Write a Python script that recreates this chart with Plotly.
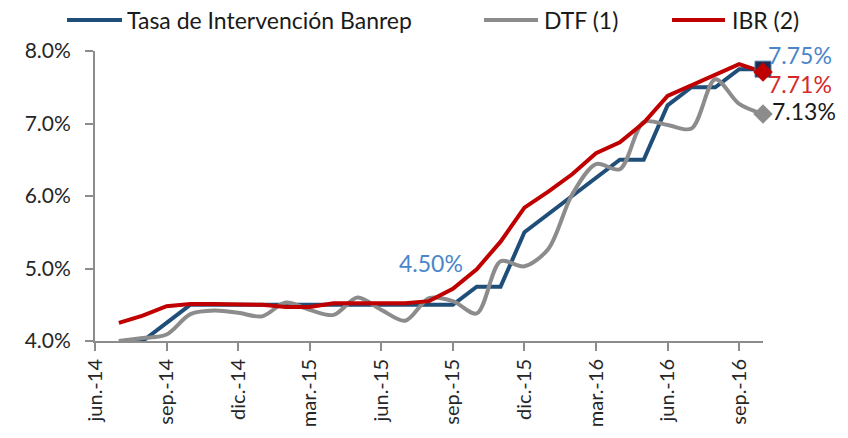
import plotly.graph_objects as go

months = ["jun.-14", "jul.-14", "ago.-14", "sep.-14", "oct.-14", "nov.-14", "dic.-14",
          "ene.-15", "feb.-15", "mar.-15", "abr.-15", "may.-15", "jun.-15", "jul.-15",
          "ago.-15", "sep.-15", "oct.-15", "nov.-15", "dic.-15", "ene.-16", "feb.-16",
          "mar.-16", "abr.-16", "may.-16", "jun.-16", "jul.-16", "ago.-16", "sep.-16",
          "oct.-16"]
data_months = months[1:]

banrep = [4.00, 4.00, 4.25, 4.50, 4.50, 4.50, 4.50, 4.50, 4.50, 4.50, 4.50, 4.50, 4.50,
          4.50, 4.50, 4.75, 4.75, 5.50, 5.75, 6.00, 6.25, 6.50, 6.50, 7.25, 7.50, 7.50,
          7.75, 7.75]
dtf = [4.00, 4.04, 4.09, 4.37, 4.42, 4.39, 4.34, 4.53, 4.43, 4.36, 4.60, 4.43, 4.28,
       4.59, 4.55, 4.38, 5.10, 5.03, 5.27, 6.02, 6.44, 6.37, 7.02, 6.98, 6.93, 7.61,
       7.27, 7.13]
ibr = [4.25, 4.35, 4.48, 4.51, 4.51, 4.50, 4.50, 4.47, 4.47, 4.52, 4.52, 4.51, 4.52,
       4.55, 4.72, 4.99, 5.37, 5.84, 6.06, 6.30, 6.59, 6.74, 7.01, 7.38, 7.53, 7.68,
       7.82, 7.71]

series_names = ["Tasa de Intervención Banrep", "DTF (1)", "IBR (2)"]
tick_labels = ["jun.-14", "sep.-14", "dic.-14", "mar.-15", "jun.-15", "sep.-15",
               "dic.-15", "mar.-16", "jun.-16", "sep.-16"]
y_ticks = [4, 5, 6, 7, 8]
y_tick_text = ["4.0%", "5.0%", "6.0%", "7.0%", "8.0%"]

BLUE = "#1F4E79"
GRAY = "#8C8C8C"
RED = "#C00000"
LBLUE = "#4A86C8"
series_colors = [BLUE, GRAY, RED]

FONT = "Lato"

fig = go.Figure()
fig.add_trace(go.Scatter(x=data_months, y=banrep, mode="lines", name=series_names[0],
                         line=dict(color=BLUE, width=4)))
fig.add_trace(go.Scatter(x=data_months, y=dtf, mode="lines", name=series_names[1],
                         line=dict(color=GRAY, width=4, shape="spline", smoothing=0.9)))
fig.add_trace(go.Scatter(x=data_months, y=ibr, mode="lines", name=series_names[2],
                         line=dict(color=RED, width=4)))

# end markers
fig.add_trace(go.Scatter(x=[data_months[-1]], y=[banrep[-1]], mode="markers", showlegend=False,
                         marker=dict(symbol="square", size=16, color="#1B2F55",
                                     line=dict(color="#5A7FB0", width=1)), cliponaxis=False))
fig.add_trace(go.Scatter(x=[data_months[-1]], y=[dtf[-1]], mode="markers", showlegend=False,
                         marker=dict(symbol="diamond", size=15, color=GRAY), cliponaxis=False))
fig.add_trace(go.Scatter(x=[data_months[-1]], y=[ibr[-1]], mode="markers", showlegend=False,
                         marker=dict(symbol="diamond", size=15, color=RED), cliponaxis=False))

ann_font = dict(family=FONT, size=23)
fig.add_annotation(x=data_months[-1], y=banrep[-1], text=f"{banrep[-1]:.2f}%", showarrow=False,
                   xanchor="left", yanchor="middle", xshift=3, yshift=14,
                   font=dict(ann_font, color=LBLUE))
fig.add_annotation(x=data_months[-1], y=ibr[-1], text=f"{ibr[-1]:.2f}%", showarrow=False,
                   xanchor="left", yanchor="middle", xshift=3, yshift=-12,
                   font=dict(ann_font, color="#D42A2A"))
fig.add_annotation(x=data_months[-1], y=dtf[-1], text=f"{dtf[-1]:.2f}%", showarrow=False,
                   xanchor="left", yanchor="middle", xshift=7, yshift=3,
                   font=dict(ann_font, color="#1A1A1A"))
fig.add_annotation(x=months[13], y=banrep[13], text=f"{banrep[13]:.2f}%", showarrow=False,
                   xanchor="center", yanchor="middle", xshift=26, yshift=42,
                   font=dict(ann_font, color=LBLUE))

# legend drawn manually (line sample + label) in paper coordinates
leg_y = 1.107
leg_line_x = [(-0.0419, 0.0404), (0.5823, 0.6632), (0.8638, 0.9431)]
leg_text_x = [0.0449, 0.6692, 0.9506]
for name, col, (x0, x1), tx in zip(series_names, series_colors, leg_line_x, leg_text_x):
    fig.add_shape(type="line", xref="paper", yref="paper", x0=x0, x1=x1, y0=leg_y, y1=leg_y,
                  line=dict(color=col, width=4))
    fig.add_annotation(x=tx, y=leg_y, xref="paper", yref="paper", text=name, showarrow=False,
                       xanchor="left", yanchor="middle",
                       font=dict(family=FONT, size=23, color="#1A1A1A"))

# page has an 8px body margin: figure sized so the plot area lands at the reference position
fig.update_layout(
    width=840, height=430,
    margin=dict(l=87, r=85, t=43, b=97, autoexpand=False),
    plot_bgcolor="white", paper_bgcolor="white",
    font=dict(family=FONT, size=20, color="#262626"),
    showlegend=False,
    xaxis=dict(type="category", categoryorder="array", categoryarray=months,
               range=[0, len(months) - 1], tickmode="array",
               tickvals=tick_labels, ticktext=tick_labels, tickangle=-90,
               showgrid=False, showline=True, linecolor="#8C8C8C", linewidth=2,
               ticks="outside", ticklen=8, tickwidth=2, tickcolor="#8C8C8C",
               tickfont=dict(family=FONT, size=20, color="#262626"),
               automargin=False, zeroline=False),
    yaxis=dict(range=[4, 8], tickmode="array", tickvals=y_ticks, ticktext=y_tick_text,
               showgrid=False, showline=True, linecolor="#8C8C8C", linewidth=2,
               ticks="outside", ticklen=8, tickwidth=2, tickcolor="#8C8C8C",
               tickfont=dict(family=FONT, size=21, color="#262626"),
               ticklabelstandoff=10, automargin=False, zeroline=False),
)

fig.write_html("out.html")
